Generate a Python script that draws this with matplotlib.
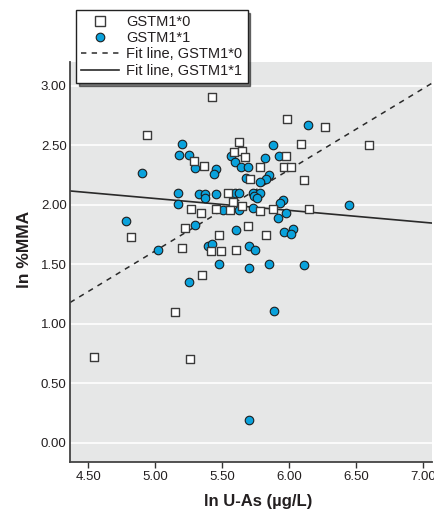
import numpy as np
import matplotlib.pyplot as plt
from matplotlib.lines import Line2D

plt.rcParams['font.family'] = ['Liberation Sans', 'DejaVu Sans']

# GSTM1*0 (open squares)
gstm0_x = [5.425, 5.981, 6.264, 4.940, 5.625, 6.085, 5.590, 5.647, 5.672, 5.291,
           5.366, 5.781, 5.973, 5.963, 6.015, 5.704, 6.107, 5.540, 5.582, 5.647,
           5.269, 5.343, 5.451, 5.557, 5.779, 5.878, 6.145, 5.222, 4.819, 5.694,
           5.478, 5.826, 5.204, 5.413, 5.488, 5.600, 5.351, 5.148, 5.261, 4.545,
           6.593]
gstm0_y = [2.905, 2.723, 2.658, 2.591, 2.524, 2.515, 2.440, 2.456, 2.401, 2.370,
           2.328, 2.319, 2.412, 2.319, 2.319, 2.221, 2.210, 2.098, 2.023, 1.992,
           1.966, 1.935, 1.966, 1.958, 1.952, 1.966, 1.966, 1.809, 1.731, 1.818,
           1.750, 1.750, 1.639, 1.613, 1.613, 1.624, 1.406, 1.101, 0.700, 0.717,
           2.504]

# GSTM1*1 (filled circles)
gstm1_x = [6.140, 5.197, 5.179, 5.249, 5.299, 5.453, 5.436, 4.903, 5.878, 5.921,
           5.819, 5.565, 5.597, 5.642, 5.692, 5.849, 5.828, 5.781, 5.675, 5.169,
           5.169, 5.324, 5.373, 5.373, 5.453, 5.597, 5.625, 5.729, 5.779, 5.739,
           5.757, 5.953, 5.933, 5.507, 5.625, 5.727, 5.975, 5.916, 4.779, 5.299,
           5.600, 5.958, 6.028, 6.015, 5.020, 5.393, 5.421, 5.699, 5.742, 5.473,
           5.699, 5.846, 6.107, 5.254, 5.884, 5.697, 6.448]
gstm1_y = [2.675, 2.513, 2.418, 2.418, 2.313, 2.305, 2.258, 2.271, 2.502, 2.414,
           2.392, 2.414, 2.359, 2.319, 2.322, 2.250, 2.216, 2.193, 2.224, 2.098,
           2.006, 2.092, 2.092, 2.056, 2.095, 2.098, 2.098, 2.098, 2.098, 2.070,
           2.056, 2.042, 2.014, 1.958, 1.958, 1.972, 1.935, 1.891, 1.868, 1.834,
           1.792, 1.773, 1.796, 1.756, 1.619, 1.653, 1.672, 1.653, 1.624, 1.504,
           1.468, 1.504, 1.493, 1.347, 1.109, 0.191, 2.000]

# fit lines (intercept, slope)
fit0 = (-1.803, 0.683)
fit1 = (2.553, -0.100)

xticks = [4.5, 5.0, 5.5, 6.0, 6.5, 7.0]
yticks = [0.0, 0.5, 1.0, 1.5, 2.0, 2.5, 3.0]

txt = '#231f20'
blue = '#0aa2dc'

fig = plt.figure(figsize=(4.35, 5.11), dpi=100)
ax = fig.add_axes([0.161, 0.0965, 0.832, 0.782])
ax.set_facecolor('#e6e7e7')
ax.set_xlim(4.365, 7.065)
ax.set_ylim(-0.16, 3.20)

for yt in yticks:
    ax.axhline(yt, color='white', lw=1.2, zorder=1)

xs = np.array(ax.get_xlim())
ax.plot(xs, fit0[0] + fit0[1] * xs, color='#2a2a2a', lw=1.1,
        linestyle=(0, (3.5, 3.5)), zorder=2)
ax.plot(xs, fit1[0] + fit1[1] * xs, color='#2a2a2a', lw=1.2, zorder=2)

ax.scatter(gstm1_x, gstm1_y, s=38, marker='o', facecolor=blue,
           edgecolor='#1e1e1e', linewidth=0.8, zorder=3)
ax.scatter(gstm0_x, gstm0_y, s=40, marker='s', facecolor='white',
           edgecolor='#3a3a3a', linewidth=1.0, zorder=4)

ax.set_xticks(xticks)
ax.set_xticklabels([f'{v:.2f}' for v in xticks])
ax.set_yticks(yticks)
ax.set_yticklabels([f'{v:.2f}' for v in yticks])
ax.tick_params(axis='x', direction='out', length=4.5, width=1, color='#333333',
               pad=2.5, labelsize=9.5, labelcolor=txt)
ax.tick_params(axis='y', length=0, pad=2.5, labelsize=9.5, labelcolor=txt)

for side in ['top', 'right']:
    ax.spines[side].set_visible(False)
for side in ['left', 'bottom']:
    ax.spines[side].set_color('#444444')
    ax.spines[side].set_linewidth(1.3)

ax.set_xlabel('ln U-As (µg/L)', fontsize=12, fontweight='bold', color=txt)
ax.xaxis.set_label_coords(0.52, -0.08)
ax.set_ylabel('ln %MMA', fontsize=12.5, fontweight='bold', color=txt)
ax.yaxis.set_label_coords(-0.105, 0.53)

handles = [
    Line2D([], [], marker='s', linestyle='none', markersize=6.5,
           markerfacecolor='white', markeredgecolor='#3a3a3a', markeredgewidth=1.0),
    Line2D([], [], marker='o', linestyle='none', markersize=6.2,
           markerfacecolor=blue, markeredgecolor='#1e1e1e', markeredgewidth=0.8),
    Line2D([], [], color='#2a2a2a', lw=1.1, linestyle=(0, (3.5, 3.5))),
    Line2D([], [], color='#2a2a2a', lw=1.2),
]
labels = ['GSTM1*0', 'GSTM1*1', 'Fit line, GSTM1*0', 'Fit line, GSTM1*1']
leg = fig.legend(handles, labels, loc='upper left',
                 bbox_to_anchor=(76 / 435, 1 - 10 / 511), fontsize=10.5,
                 frameon=True, fancybox=False, handlelength=2.6,
                 handletextpad=0.5, labelspacing=0.15, borderpad=0.35,
                 borderaxespad=0, shadow={'ox': 2, 'oy': -2, 'color': 'black'})
leg.get_frame().set_edgecolor('#222222')
leg.get_frame().set_linewidth(1.0)
leg.get_frame().set_facecolor('white')
leg.get_frame().set_alpha(1)
for t in leg.get_texts():
    t.set_color(txt)

fig.savefig('out.png', dpi=100, facecolor='white')
